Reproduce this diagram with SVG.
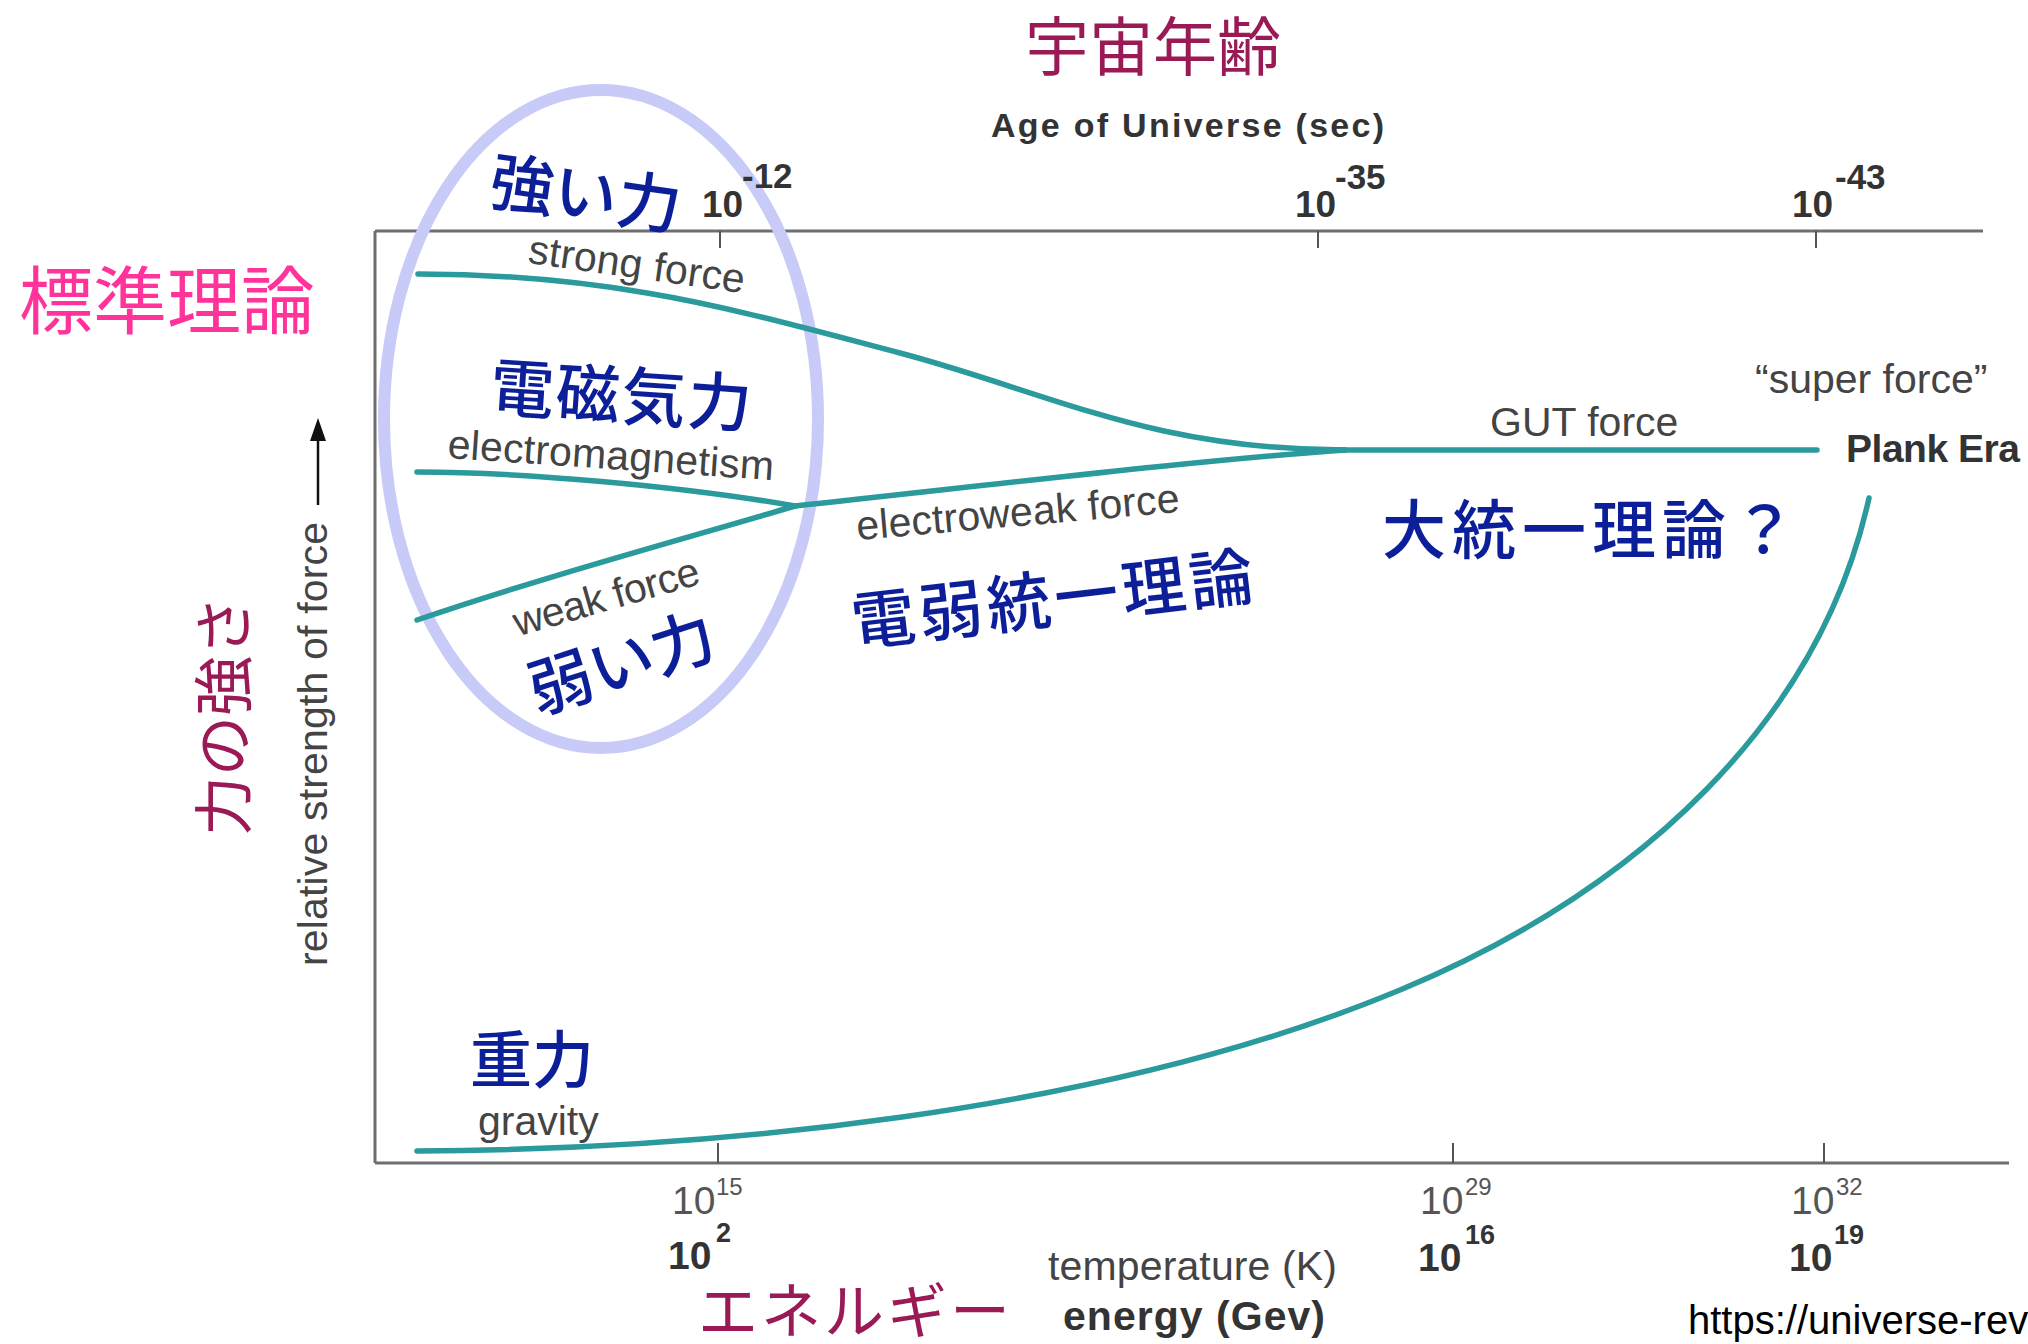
<svg xmlns="http://www.w3.org/2000/svg" width="2028" height="1344" viewBox="0 0 2028 1344">
<style>
.lbl{font-family:"Liberation Sans",Arial,sans-serif;font-size:41px;fill:#444}
.bld{font-family:"Liberation Sans",Arial,sans-serif;font-weight:bold;fill:#333}
.num{font-family:"Liberation Sans",Arial,sans-serif;fill:#555}
.jb{font-family:"Noto Sans CJK JP","Noto Sans CJK SC",sans-serif;font-size:64px;font-weight:500;fill:#0c1f99}
.jm{font-family:"Noto Sans CJK JP","Noto Sans CJK SC",sans-serif;fill:#991a55}
.curve{fill:none;stroke:#2a9a9c;stroke-width:5.5;stroke-linecap:round}
.axis{fill:none;stroke:#6e6e6e;stroke-width:3}
.tick{stroke:#555;stroke-width:2}
</style>
<rect width="2028" height="1344" fill="#ffffff"/>

<g id="axes">
<path class="axis" d="M375,231 H1983"/>
<path class="axis" d="M375,231 V1163"/>
<path class="axis" d="M375,1163 H2009" stroke-width="4.5"/>
<path class="tick" d="M720,231 V248 M1318,231 V248 M1816,231 V248"/>
<path class="tick" d="M718,1163 V1143 M1453,1163 V1143 M1824,1163 V1143"/>
</g>

<g id="ellipse">
<ellipse cx="601" cy="419" rx="217" ry="329" fill="none" stroke="#c8cbf8" stroke-width="12"/>
</g>

<g id="connectors">
<path class="curve" d="M418,274 C494,274 571,280 647,293 C731,307 816,331 900,353 C988,376 1076,412 1164,431 C1224,444 1285,450 1345,450"/>
<path class="curve" d="M417,472 C520,472 680,486 795,506"/>
<path class="curve" d="M417,620 C540,578 680,540 795,506"/>
<path class="curve" d="M795,506 C1000,484 1200,460 1345,450"/>
<path class="curve" d="M1340,450 H1817"/>
<path class="curve" d="M417,1151 C700,1150 1100,1115 1400,990 C1640,890 1820,720 1869,498" stroke-width="5"/>
</g>

<g id="title-age">
<text class="jm" x="1153" y="70" font-size="64" text-anchor="middle">宇宙年齢</text>
<text class="bld" x="991" y="137" font-size="34" textLength="393" lengthAdjust="spacing">Age of Universe (sec)</text>
</g>

<g id="age-ticks">
<text class="bld" x="702" y="217" font-size="37">10</text>
<text class="bld" x="742" y="188" font-size="35">-12</text>
<text class="bld" x="1295" y="217" font-size="37">10</text>
<text class="bld" x="1335" y="189" font-size="35">-35</text>
<text class="bld" x="1792" y="217" font-size="37">10</text>
<text class="bld" x="1835" y="189" font-size="35">-43</text>
</g>

<g id="standard-theory">
<text class="jm" x="19" y="328" font-size="74" style="fill:#ff3399">標準理論</text>
</g>

<g id="y-axis-label">
<text class="jm" font-size="60" transform="translate(246,836) rotate(-90)">力の強さ</text>
<text class="lbl" transform="translate(327,966) rotate(-90)" textLength="444" lengthAdjust="spacing">relative strength of force</text>
<line x1="318" y1="505" x2="318" y2="436" stroke="#111" stroke-width="2.5"/>
<polygon points="318,418 310,441 326,441" fill="#111"/>
</g>

<g id="strong">
<text class="jb" x="586" y="217" text-anchor="middle" transform="rotate(8 586 192)">強い力</text>
<text class="lbl" x="635" y="278" text-anchor="middle" textLength="218" lengthAdjust="spacing" transform="rotate(8 635 278)">strong force</text>
</g>

<g id="electromagnetic">
<text class="jb" x="622" y="419" text-anchor="middle" letter-spacing="2" transform="rotate(3.8 622 394)">電磁気力</text>
<text class="lbl" x="610" y="469" text-anchor="middle" textLength="327" lengthAdjust="spacing" transform="rotate(3.9 610 469)">electromagnetism</text>
</g>

<g id="weak">
<text class="lbl" x="610" y="610" text-anchor="middle" textLength="192" lengthAdjust="spacing" transform="rotate(-16 610 610)">weak force</text>
<text class="jb" x="621" y="686" text-anchor="middle" transform="rotate(-18 621 661)">弱い力</text>
</g>

<g id="electroweak">
<text class="lbl" x="1019" y="526" text-anchor="middle" textLength="324" lengthAdjust="spacing" transform="rotate(-5 1019 526)">electroweak force</text>
<text class="jb" x="1054" y="622" text-anchor="middle" letter-spacing="4" transform="rotate(-6.7 1054 597)">電弱統一理論</text>
</g>

<g id="gut">
<text class="lbl" x="1490" y="436">GUT force</text>
<text class="jb" x="1382" y="553" letter-spacing="6">大統一理論？</text>
</g>

<g id="planck">
<text class="lbl" x="1755" y="393">“super force”</text>
<text class="bld" x="1846" y="462" font-size="39" textLength="174" lengthAdjust="spacing">Plank Era</text>
</g>

<g id="gravity">
<text class="jb" x="470" y="1083" style="font-size:62px">重力</text>
<text class="lbl" x="478" y="1135">gravity</text>
</g>

<g id="energy-ticks">
<text class="num" x="672" y="1214" font-size="39">10</text>
<text class="num" x="716" y="1195" font-size="24">15</text>
<text class="bld" x="668" y="1269" font-size="39">10</text>
<text class="bld" x="716" y="1242" font-size="27">2</text>
<text class="num" x="1420" y="1214" font-size="39">10</text>
<text class="num" x="1465" y="1195" font-size="24">29</text>
<text class="bld" x="1418" y="1271" font-size="39">10</text>
<text class="bld" x="1465" y="1244" font-size="27">16</text>
<text class="num" x="1791" y="1214" font-size="39">10</text>
<text class="num" x="1836" y="1195" font-size="24">32</text>
<text class="bld" x="1789" y="1271" font-size="39">10</text>
<text class="bld" x="1834" y="1244" font-size="27">19</text>
</g>

<g id="x-axis-label">
<text class="lbl" x="1048" y="1280" textLength="289" lengthAdjust="spacing">temperature (K)</text>
<text class="bld" x="1063" y="1330" font-size="41" textLength="262" lengthAdjust="spacing">energy (Gev)</text>
<text class="jm" x="698" y="1333" font-size="60" letter-spacing="3">エネルギー</text>
</g>

<g id="source">
<text x="1688" y="1334" font-family="Liberation Sans, Arial, sans-serif" font-size="40" fill="#000">https://universe-rev</text>
</g>
</svg>
